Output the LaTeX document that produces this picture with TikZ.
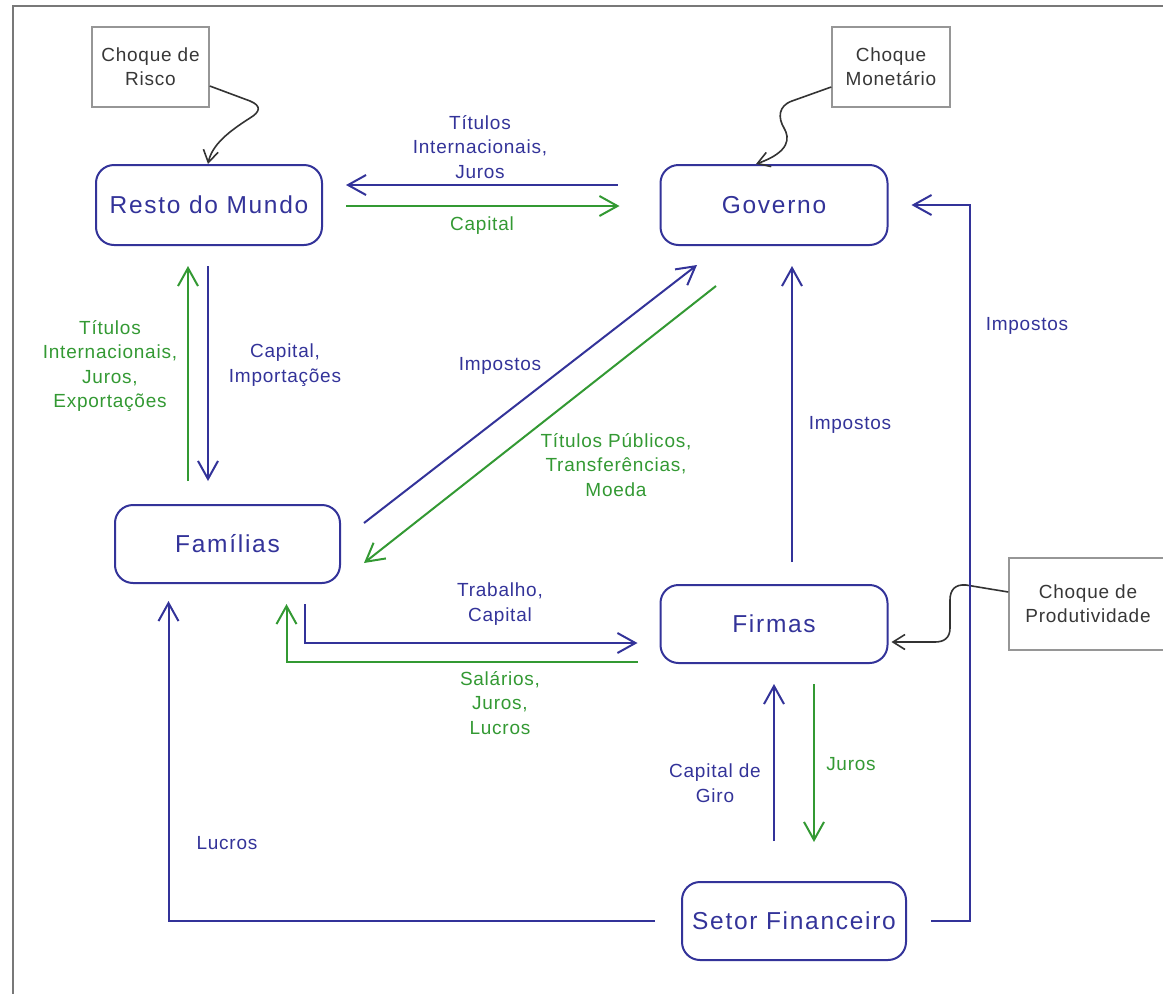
\documentclass[tikz,border=0pt]{standalone}
\usepackage{fontspec}
\setmainfont{Liberation Sans}
\newfontfamily\agentfont{Liberation Sans}[LetterSpace=7]
\newfontfamily\flowfont{Liberation Sans}[LetterSpace=4]
\usetikzlibrary{arrows.meta,calc}
\definecolor{flowblue}{RGB}{51,51,153}
\definecolor{flowgreen}{RGB}{51,153,51}
\definecolor{shockgray}{RGB}{150,150,150}
\definecolor{shocktext}{RGB}{55,55,55}
\definecolor{framegray}{RGB}{120,120,120}

\begin{document}
\begin{tikzpicture}[x=1pt,y=-1pt,
  flowtip/.style={-{Straight Barb[length=18pt,width=20pt]}},
  agent/.style={draw=flowblue, line width=2pt, rounded corners=18pt, inner sep=0pt,
    text=flowblue, font=\agentfont\fontsize{24.5}{28}\selectfont},
  shock/.style={draw=shockgray, line width=1.5pt, inner sep=0pt, align=center,
    text=shocktext, font=\flowfont\fontsize{19}{24}\selectfont},
  bflow/.style={draw=flowblue, line width=2pt, flowtip},
  gflow/.style={draw=flowgreen, line width=2pt, flowtip},
  blab/.style={text=flowblue, align=center, inner sep=0pt, font=\flowfont\fontsize{19}{24.5}\selectfont},
  glab/.style={text=flowgreen, align=center, inner sep=0pt, font=\flowfont\fontsize{19}{24.5}\selectfont},
  shockline/.style={draw=black!80, line width=1.6pt, -{Straight Barb[length=12pt,width=15pt]}}
]
\useasboundingbox (0,0) rectangle (1163,994);

% frame
\draw[framegray, line width=2.5pt] (13,994) -- (13,6) -- (1163,6);

% sectors
\node[agent, minimum width=226pt, minimum height=80pt] (resto)  at (209,205)   {Resto do Mundo};
\node[agent, minimum width=227pt, minimum height=80pt] (gov)    at (774,205)   {Governo};
\node[agent, minimum width=225pt, minimum height=78pt] (fam)    at (227.5,544) {Famílias};
\node[agent, minimum width=227pt, minimum height=78pt] (firmas) at (774,624)   {Firmas};
\node[agent, minimum width=224pt, minimum height=78pt] (fin)    at (794,921)   {Setor Financeiro};

% shocks
\node[shock, minimum width=117pt, minimum height=80pt] (risco)  at (150.5,67) {Choque de\\Risco};
\node[shock, minimum width=118pt, minimum height=80pt] (monet)  at (891,67)   {Choque\\Monetário};
\node[shock, minimum width=158pt, minimum height=92pt] (produt) at (1088,604)  {Choque de\\Produtividade};

% shock arrows
\draw[shockline] ($(risco.east)+(0,19)$) -- (250,101)
  .. controls (262,106) and (260,112) .. (250,118)
  .. controls (228,132) and (212,145) .. ($(resto.north)+(-1,0)$);
\draw[shockline] ($(monet.west)+(0,20)$) -- (792,101)
  .. controls (778,106) and (778,118) .. (784,128)
  .. controls (790,138) and (790,152) .. ($(gov.north)+(-18,0)$);
\draw[shockline] ($(produt.west)+(0,-12)$) -- (966,585)
  .. controls (955,584) and (950,590) .. (950,600) -- (950,628)
  .. controls (950,638) and (944,642) .. (935,642) -- ($(firmas.east)+(3,18)$);

% Resto do Mundo <-> Governo
\draw[bflow] ($(gov.west)+(-42,-20)$) -- ($(resto.east)+(23,-20)$);
\draw[gflow] ($(resto.east)+(23,1)$) -- ($(gov.west)+(-40,1)$);
\node[blab] (lrg) at (480,147) {Títulos\\Internacionais,\\Juros};
\node[glab] (lrg2) at (482,226) {Capital};

% Resto do Mundo <-> Familias
\draw[bflow] ($(resto.south)+(-1,20)$) -- ($(resto.south |- fam.north)+(-1,-23)$);
\draw[gflow] ($(resto.south |- fam.north)+(-21,-23)$) -- ($(resto.south)+(-21,20)$);
\node[glab] (lrf) at (110,366) {Títulos\\Internacionais,\\Juros,\\Exportações};
\node[blab] (lrf2) at (285,365) {Capital,\\Importações};

% Familias <-> Governo
\draw[bflow] ($(fam.east)+(23,-21)$) -- ($(gov.south)+(-77,19)$);
\draw[gflow] ($(gov.south)+(-58,40)$) -- ($(fam.east)+(23,19)$);
\node[blab] (lfg) at (500,366) {Impostos};
\node[glab] (lfg2) at (616,465) {Títulos Públicos,\\Transferências,\\Moeda};

% Firmas -> Governo
\draw[bflow] ($(firmas.north)+(18,-22)$) -- ($(gov.south)+(18,20)$);
\node[blab] (lfig) at (850,425) {Impostos};

% Familias <-> Firmas
\draw[bflow] ($(fam.south)+(77,20)$) |- ($(firmas.west)+(-22,19)$);
\draw[gflow] ($(firmas.west)+(-22,38)$) -| ($(fam.south)+(59,20)$);
\node[blab] (lff) at (500,604) {Trabalho,\\Capital};
\node[glab] (lff2) at (500,703) {Salários,\\Juros,\\Lucros};

% Setor Financeiro <-> Firmas
\draw[bflow] ($(fin.north)+(-20,-40)$) -- ($(firmas.south)+(0,20)$);
\draw[gflow] ($(firmas.south)+(40,20)$) -- ($(fin.north)+(20,-39)$);
\node[blab] (lsf) at (715,783) {Capital de\\Giro};
\node[glab] (lsf2) at (851,764) {Juros};

% Setor Financeiro -> Familias
\draw[bflow] ($(fin.west)+(-26,0)$) -| ($(fam.south)+(-59,17)$);
\node[blab] (lsfa) at (227,843) {Lucros};

% Setor Financeiro -> Governo
\draw[bflow] ($(fin.east)+(24,0)$) -- ++(39,0) |- ($(gov.east)+(23,0)$);
\node[blab] (lsg) at (1027,326) {Impostos};
\end{tikzpicture}
\end{document}
